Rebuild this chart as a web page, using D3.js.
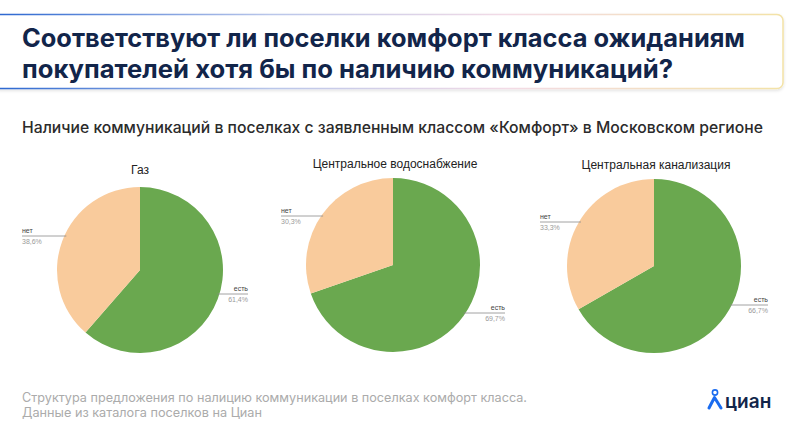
<!DOCTYPE html>
<html><head><meta charset="utf-8">
<script src="https://cdn.jsdelivr.net/npm/d3@7"></script>
<style>body{margin:0;background:#fff}svg{display:block}</style>
</head><body>
<svg id="c" width="800" height="438"></svg>
<script>
const titleLines = ["Соответствуют ли поселки комфорт класса ожиданиям", "покупателей хотя бы по наличию коммуникаций?"];
const subtitle = "Наличие коммуникаций в поселках с заявленным классом «Комфорт» в Московском регионе";
const chartTitles = ["Газ", "Центральное водоснабжение", "Центральная канализация"];
const categories = ["есть", "нет"];
const yesValues = [61.4, 69.7, 66.7];
const noValues = [38.6, 30.3, 33.3];
const footerLines = ["Структура предложения по налицию коммуникации в поселках комфорт класса.", "Данные из каталога поселков на Циан"];

const svg = d3.select("#c");
const defs = svg.append("defs");
const g1 = defs.append("linearGradient").attr("id","bord").attr("x1","0").attr("x2","1").attr("y1","0").attr("y2","0");
g1.append("stop").attr("offset","0").attr("stop-color","#2a66d0");
g1.append("stop").attr("offset","0.35").attr("stop-color","#b9c6ea");
g1.append("stop").attr("offset","0.65").attr("stop-color","#f3dbe6");
g1.append("stop").attr("offset","1").attr("stop-color","#f3e2a6");
const sh = defs.append("filter").attr("id","sh").attr("x","-5%").attr("y","-20%").attr("width","110%").attr("height","150%");
sh.append("feDropShadow").attr("dx",0).attr("dy",1.5).attr("stdDeviation",1.5).attr("flood-color","#000").attr("flood-opacity",0.12);

svg.append("rect").attr("x",-6).attr("y",14.5).attr("width",789).attr("height",74).attr("rx",6)
  .attr("fill","#fff").attr("stroke","url(#bord)").attr("stroke-width",1.5).attr("filter","url(#sh)");

const titleWidths = [723, 651];
svg.append("g").selectAll("text").data(titleLines).join("text")
  .attr("x",22).attr("y",(d,i)=>47+i*31)
  .attr("font-family","Inter, 'Open Sans', sans-serif").attr("font-weight",700).attr("font-size",25)
  .attr("textLength",(d,i)=>titleWidths[i]).attr("lengthAdjust","spacingAndGlyphs")
  .attr("fill","#12254a").text(d=>d);

svg.append("text").attr("x",22).attr("y",133)
  .attr("font-family","Inter, 'Open Sans', sans-serif").attr("font-weight",500).attr("font-size",15.5)
  .attr("textLength",741).attr("lengthAdjust","spacingAndGlyphs")
  .attr("fill","#2b2b2b").text(subtitle);

const colors = d3.scaleOrdinal().domain(categories).range(["#6aa84f","#f9cb9c"]);
const pie = d3.pie().sort(null).value(d=>d.v);
const centers = [{x:140,y:270,r:83},{x:393,y:265,r:87},{x:654,y:266,r:87}];
const lab = [
  {nx:22, ny:236, ey:294, er:248},
  {nx:281, ny:216, ey:313, er:505},
  {nx:540, ny:222, ey:305, er:768}
];
const fmt = v => d3.format(".1f")(v).replace(".",",") + "%";
const lf = "'Liberation Sans', Arial, sans-serif";

chartTitles.forEach((t,i)=>{
  const c = centers[i];
  const data = categories.map((k,j)=>({k, v: j===0?yesValues[i]:noValues[i]}));
  const g = svg.append("g").attr("transform",`translate(${c.x},${c.y})`);
  const arc = d3.arc().innerRadius(0).outerRadius(c.r);
  g.selectAll("path").data(pie(data)).join("path")
    .attr("d",arc).attr("fill",d=>colors(d.data.k));
  svg.append("text").attr("x",c.x + (i===0?0:2)).attr("y",c.y - c.r - (i===0?13:10))
    .attr("text-anchor","middle").attr("font-family",lf)
    .attr("font-size",12).attr("fill","#222").text(t);
  const L = lab[i];
  const noEdge = c.x - Math.sqrt(Math.max(0, c.r*c.r - (L.ny-c.y)*(L.ny-c.y)));
  svg.append("line").attr("x1",L.nx).attr("x2",noEdge+2).attr("y1",L.ny).attr("y2",L.ny)
    .attr("stroke","#8a8a8a").attr("stroke-width",0.8);
  svg.append("text").attr("x",L.nx).attr("y",L.ny-3).attr("font-family",lf)
    .attr("font-size",7).attr("fill","#444").text(categories[1]);
  svg.append("text").attr("x",L.nx).attr("y",L.ny+8).attr("font-family",lf)
    .attr("font-size",7).attr("fill","#9a9a9a").text(fmt(noValues[i]));
  const yesEdge = c.x + Math.sqrt(Math.max(0, c.r*c.r - (L.ey-c.y)*(L.ey-c.y)));
  svg.append("line").attr("x1",yesEdge-2).attr("x2",L.er).attr("y1",L.ey).attr("y2",L.ey)
    .attr("stroke","#8a8a8a").attr("stroke-width",0.8);
  svg.append("text").attr("x",L.er).attr("y",L.ey-3).attr("text-anchor","end").attr("font-family",lf)
    .attr("font-size",7).attr("fill","#444").text(categories[0]);
  svg.append("text").attr("x",L.er).attr("y",L.ey+8).attr("text-anchor","end").attr("font-family",lf)
    .attr("font-size",7).attr("fill","#9a9a9a").text(fmt(yesValues[i]));
});

const footerWidths = [505, 240];
svg.append("g").selectAll("text").data(footerLines).join("text")
  .attr("x",22).attr("y",(d,i)=>402+i*15)
  .attr("font-family","Inter, 'Open Sans', sans-serif").attr("font-size",12.5)
  .attr("textLength",(d,i)=>footerWidths[i]).attr("lengthAdjust","spacingAndGlyphs")
  .attr("fill","#ababab").text(d=>d);

const lg = svg.append("g").attr("transform","translate(709,391)");
lg.append("circle").attr("cx",6).attr("cy",1.5).attr("r",2.6).attr("fill","none").attr("stroke","#1a6cf0").attr("stroke-width",1.6);
lg.append("path").attr("d","M0,17 L5.5,6.5 L12,17").attr("fill","none").attr("stroke","#1a6cf0").attr("stroke-width",3).attr("stroke-linejoin","round").attr("stroke-linecap","round");
svg.append("text").attr("x",725).attr("y",408).attr("font-family","Inter, 'Open Sans', sans-serif")
  .attr("font-weight",600).attr("font-size",19).attr("fill","#12254a").text("циан");
</script>
</body></html>
